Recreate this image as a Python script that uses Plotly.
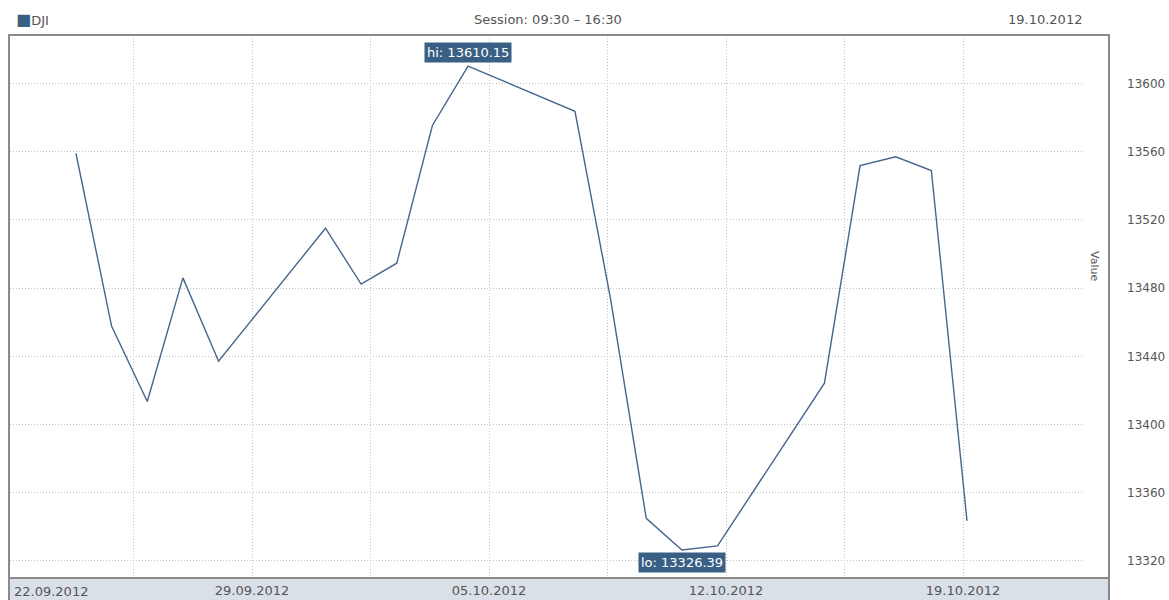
import pandas as pd
import plotly.graph_objects as go

# ---- data ----
dates = ["2012-09-24", "2012-09-25", "2012-09-26", "2012-09-27", "2012-09-28",
         "2012-10-01", "2012-10-02", "2012-10-03", "2012-10-04", "2012-10-05",
         "2012-10-08", "2012-10-09", "2012-10-10", "2012-10-11", "2012-10-12",
         "2012-10-15", "2012-10-16", "2012-10-17", "2012-10-18", "2012-10-19"]
values = [13558.92, 13457.55, 13413.51, 13485.97, 13437.13,
          13515.11, 13482.36, 13494.61, 13575.36, 13610.15,
          13583.65, 13473.53, 13344.97, 13326.39, 13328.85,
          13424.23, 13551.78, 13557.00, 13548.94, 13343.51]
x_tick_labels = ["22.09.2012", "29.09.2012", "05.10.2012", "12.10.2012", "19.10.2012"]
y_ticks = [13320, 13360, 13400, 13440, 13480, 13520, 13560, 13600]
series_name = "DJI"
session_text = "Session: 09:30 – 16:30"
date_text = "19.10.2012"

# ---- layout geometry (pixels) ----
W, H = 1169, 600
L, R, T, B = 10, 1083, 35, 578
PPD = 35.64          # pixels per day on x axis
X_BASE_PX = 76       # pixel of first date
TICK_STEP_PX = 237   # spacing between date labels
FIRST_TICK_PX = 15

x = pd.to_datetime(dates)
base = x[0]

def px_to_date(px):
    return base + pd.Timedelta(days=(px - X_BASE_PX) / PPD)

def pxx(px):
    return (px - L) / (R - L)

def pxy(py):
    return (B - py) / (B - T)

major_px = [FIRST_TICK_PX + TICK_STEP_PX * i for i in range(1, len(x_tick_labels))]
minor_px = [FIRST_TICK_PX + TICK_STEP_PX * (i + 0.5) for i in range(len(x_tick_labels) - 1)]

line_col = "#46668f"
box_col = "#3a5f85"
grid_col = "#c4c4c4"
dash = "1px,2px"
font = "DejaVu Sans, Verdana, sans-serif"
txt_col = "#555555"

fig = go.Figure()
fig.add_trace(go.Scatter(x=x, y=values, mode="lines",
                         line=dict(color=line_col, width=1.4),
                         name=series_name, showlegend=False, hoverinfo="x+y"))

i_hi = max(range(len(values)), key=lambda i: values[i])
i_lo = min(range(len(values)), key=lambda i: values[i])

annotations = [
    dict(x=x[i_hi], y=values[i_hi], xref="x", yref="y", text=f"hi: {values[i_hi]:.2f}",
         showarrow=False, yanchor="bottom", yshift=3, bgcolor=box_col, borderpad=2,
         font=dict(color="white", size=13, family=font)),
    dict(x=x[i_lo], y=values[i_lo], xref="x", yref="y", text=f"lo: {values[i_lo]:.2f}",
         showarrow=False, yanchor="top", yshift=-2, bgcolor=box_col, borderpad=2,
         font=dict(color="white", size=13, family=font)),
    dict(x=pxx(14), y=pxy(19), xref="paper", yref="paper",
         text=f"<span style='color:{box_col};font-size:16px'>■</span>{series_name}",
         showarrow=False, xanchor="left", yanchor="middle",
         font=dict(color=txt_col, size=13, family=font)),
    dict(x=pxx(548), y=pxy(19), xref="paper", yref="paper", text=session_text,
         showarrow=False, xanchor="center", yanchor="middle",
         font=dict(color=txt_col, size=13, family=font)),
    dict(x=pxx(1084), y=pxy(19), xref="paper", yref="paper", text=date_text,
         showarrow=False, xanchor="right", yanchor="middle",
         font=dict(color=txt_col, size=13, family=font)),
    dict(x=pxx(1095), y=pxy(266), xref="paper", yref="paper", text="Value",
         showarrow=False, textangle=90, xanchor="center", yanchor="middle",
         font=dict(color=txt_col, size=11, family=font)),
    dict(x=pxx(12), y=pxy(591), xref="paper", yref="paper", text=x_tick_labels[0],
         showarrow=False, xanchor="left", yanchor="middle",
         font=dict(color=txt_col, size=13, family=font)),
]

shapes = [
    # bottom band
    dict(type="rect", xref="paper", yref="paper", x0=pxx(9), x1=pxx(1109), y0=pxy(578), y1=pxy(602),
         fillcolor="#d9e0e7", line=dict(color="#8a8a8a", width=2), layer="below"),
    # frame
    dict(type="rect", xref="paper", yref="paper", x0=pxx(9), x1=pxx(1109), y0=pxy(578), y1=pxy(35),
         fillcolor="rgba(0,0,0,0)", line=dict(color="#8a8a8a", width=2), layer="above"),
]

fig.update_layout(
    width=W, height=H,
    margin=dict(l=L, r=W - R, t=T, b=H - B),
    paper_bgcolor="white", plot_bgcolor="white",
    font=dict(family=font, size=12, color=txt_col),
    annotations=annotations, shapes=shapes,
    xaxis=dict(
        type="date",
        range=[px_to_date(L), px_to_date(R)],
        tickmode="array",
        tickvals=[px_to_date(p) for p in major_px],
        ticktext=x_tick_labels[1:],
        showgrid=True, gridcolor=grid_col, griddash=dash, gridwidth=1,
        minor=dict(tickmode="array", tickvals=[px_to_date(p) for p in minor_px],
                   showgrid=True, gridcolor=grid_col, griddash=dash, gridwidth=1),
        zeroline=False, showline=False, ticks="",
        tickfont=dict(size=13, color=txt_col, family=font),
        ticklabelstandoff=3,
        automargin=False, fixedrange=True,
    ),
    yaxis=dict(
        side="right",
        range=[13310.0, 13628.4],
        tickmode="array", tickvals=y_ticks,
        ticktext=[str(v) for v in y_ticks],
        showgrid=True, gridcolor=grid_col, griddash=dash, gridwidth=1,
        zeroline=False, showline=False, ticks="",
        tickfont=dict(size=12, color=txt_col, family=font),
        ticklabelstandoff=43,
        automargin=False, fixedrange=True,
    ),
)

fig.write_html("out.html", config={"displayModeBar": False},
               post_script="document.body.style.margin='0';document.body.style.overflow='hidden';")
